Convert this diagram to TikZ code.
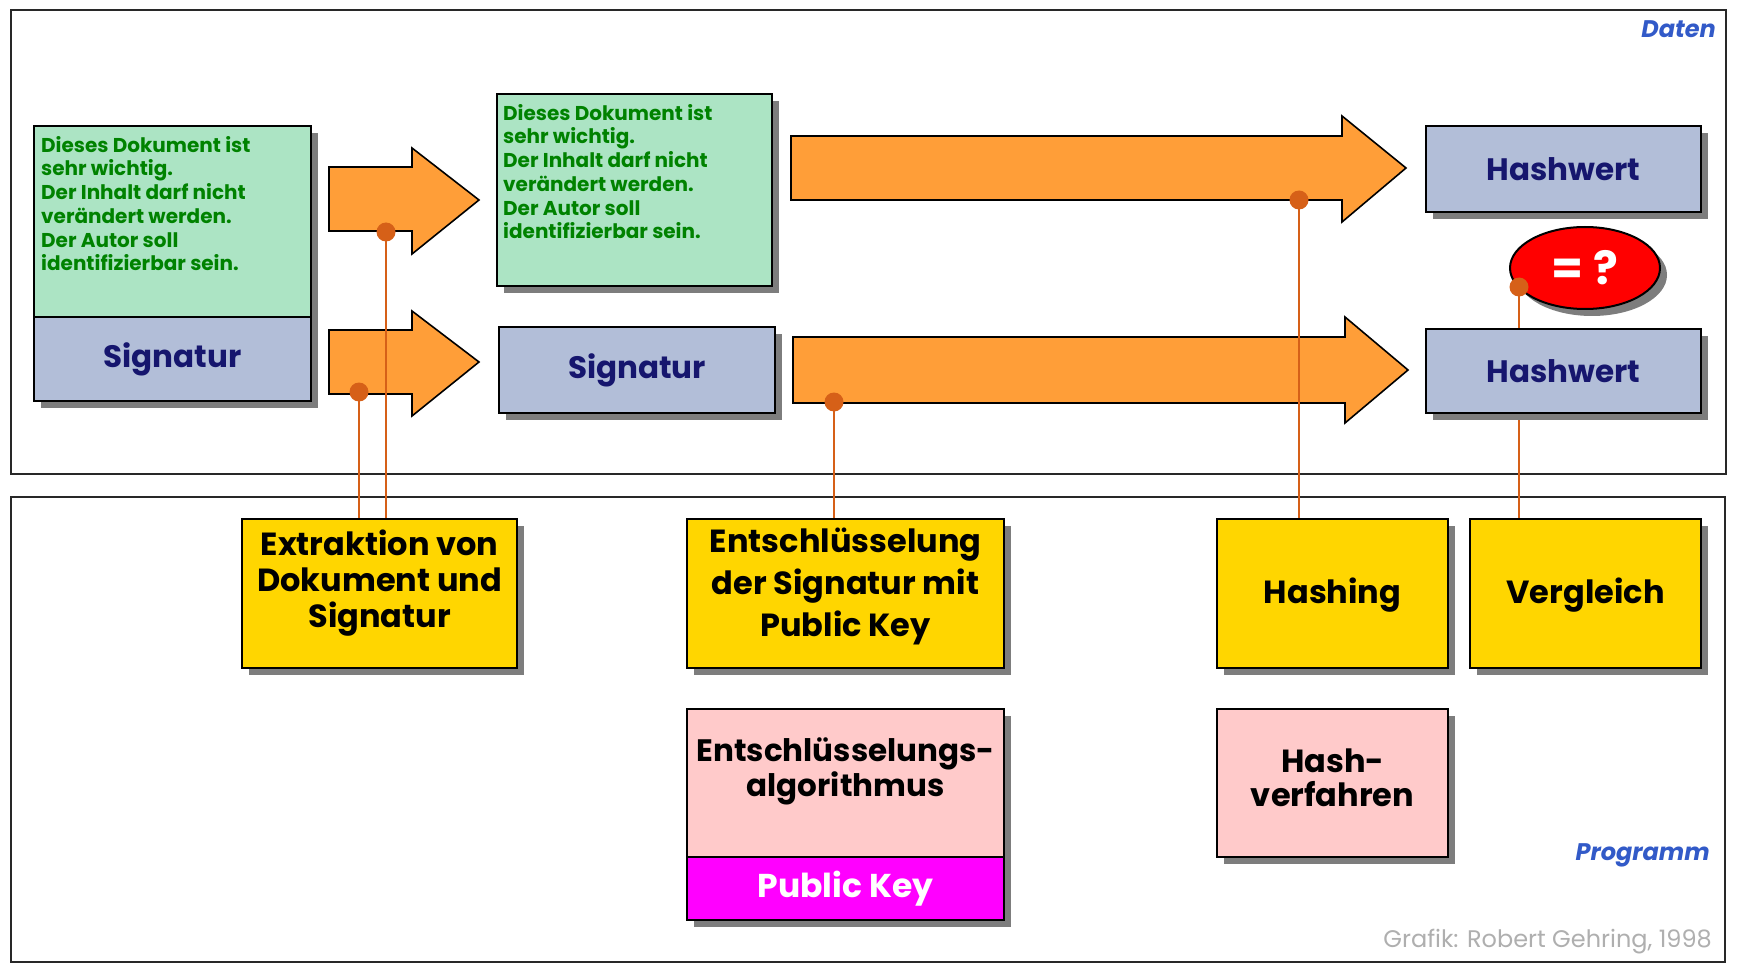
\documentclass[tikz,border=0pt]{standalone}
\usepackage{fontspec}
\setmainfont{Poppins}
\usetikzlibrary{shapes.geometric,shadows,calc}

\definecolor{mint}{RGB}{172,228,196}
\definecolor{doctext}{RGB}{0,130,0}
\definecolor{sigfill}{RGB}{178,190,216}
\definecolor{navy}{RGB}{22,22,110}
\definecolor{arroworange}{RGB}{255,158,56}
\definecolor{linkorange}{RGB}{214,96,24}
\definecolor{stepyellow}{RGB}{255,214,0}
\definecolor{toolpink}{RGB}{255,202,202}
\definecolor{keymagenta}{RGB}{255,0,255}
\definecolor{labelblue}{RGB}{50,90,200}
\definecolor{creditgray}{RGB}{175,175,175}
\definecolor{framegray}{RGB}{40,40,40}
\definecolor{shadowgray}{RGB}{125,125,125}

\tikzset{
  panel/.style={draw=framegray, line width=2.4pt},
  card/.style={draw=black, line width=2.2pt, anchor=north west, inner sep=0pt, align=center,
    drop shadow={shadow xshift=7pt, shadow yshift=-7pt, fill=shadowgray, opacity=1}},
  doccard/.style={card, fill=mint},
  sigcard/.style={card, fill=sigfill, text=navy, font=\fontsize{31}{36}\selectfont\bfseries},
  stepcard/.style={card, fill=stepyellow},
  toolcard/.style={card, fill=toolpink},
  keycard/.style={card, fill=keymagenta, text=white, font=\fontsize{33}{36}\selectfont\bfseries},
  doctext/.style={anchor=north west, inner sep=0pt, align=left, text=doctext,
    font=\fontsize{20}{23.7}\selectfont\bfseries},
  steptext/.style={inner sep=0pt, align=center, font=\fontsize{32}{36}\selectfont\bfseries},
  flow/.style={draw=black, line width=1.6pt, fill=arroworange, line join=miter},
  link/.style={draw=linkorange, line width=1.6pt},
  dot/.style={circle, fill=linkorange, minimum size=19pt, inner sep=0pt},
  tag/.style={anchor=east, inner sep=0pt, text=labelblue,
    font=\fontsize{24}{28}\selectfont\bfseries\itshape},
  credit/.style={anchor=east, inner sep=0pt, text=creditgray, font=\fontsize{24}{28}\selectfont},
}

\begin{document}
\begin{tikzpicture}[x=1pt, y=-1pt]
\useasboundingbox[fill=white] (0,0) rectangle (1740,976);

% the two panels: data (top) and program (bottom)
\draw[panel] (11,10) rectangle (1726,474);
\draw[panel] (11,497) rectangle (1725,962);
\node[tag] (daten) at (1716,29) {Daten};
\node[tag] (programm) at (1710,855) {Programm};
\node[credit] (credit) at (1712,942) {Grafik: Robert Gehring, 1998};

% flow arrows
\draw[flow] (329,167) -- (412,167) -- (412,148) -- (479,200) -- (412,254) -- (412,231) -- (329,231) -- cycle;
\draw[flow] (329,330) -- (412,330) -- (412,311) -- (479,362) -- (412,416) -- (412,394) -- (329,394) -- cycle;
\draw[flow] (791,136) -- (1342,136) -- (1342,116) -- (1406,168) -- (1342,222) -- (1342,200) -- (791,200) -- cycle;
\draw[flow] (793,337) -- (1345,337) -- (1345,317) -- (1408,370) -- (1345,423) -- (1345,403) -- (793,403) -- cycle;

% signed document, split into document and signature
\node[doccard, minimum width=277pt, minimum height=191pt] (doc) at (33,125) {};
\node[sigcard, minimum width=277pt, minimum height=84pt] (sig) at (33,316) {Signatur};
\node[doctext] (doctxt) at (41,136) {Dieses Dokument ist\\sehr wichtig.\\Der Inhalt darf nicht\\verändert werden.\\Der Autor soll\\identifizierbar sein.};

\node[doccard, minimum width=275pt, minimum height=192pt] (doc2) at (496,93) {};
\node[doctext] (doc2txt) at (503,104) {Dieses Dokument ist\\sehr wichtig.\\Der Inhalt darf nicht\\verändert werden.\\Der Autor soll\\identifizierbar sein.};
\node[sigcard, minimum width=276pt, minimum height=86pt] (sig2) at (498,326) {Signatur};

\node[sigcard, minimum width=275pt, minimum height=86pt] (hash1) at (1425,125) {Hashwert};

% comparison
\node[ellipse, draw=black, line width=2pt, fill=red, minimum width=150pt, minimum height=82pt,
  inner sep=0pt, text=white, font=\fontsize{46}{50}\selectfont\bfseries,
  drop shadow={shadow xshift=7pt, shadow yshift=-7pt, fill=shadowgray, opacity=1}] (cmp) at (1585,268) {= ?};

% program steps
\node[stepcard, minimum width=275pt, minimum height=149pt] (extr) at (241,518) {};
\node[steptext] at ([yshift=11pt]extr.center) {Extraktion von\\Dokument und\\Signatur};
\node[stepcard, minimum width=317pt, minimum height=149pt] (decr) at (686,518) {};
\node[steptext, font=\fontsize{32}{42}\selectfont\bfseries] at ([yshift=7pt]decr.center) {Entschlüsselung\\der Signatur mit\\Public Key};
\node[stepcard, minimum width=231pt, minimum height=149pt] (hashing) at (1216,518) {};
\node[steptext] at ([yshift=-1pt]hashing.center) {Hashing};
\node[stepcard, minimum width=231pt, minimum height=149pt] (vergl) at (1469,518) {};
\node[steptext] at ([yshift=-1pt]vergl.center) {Vergleich};

% tools
\node[toolcard, minimum width=317pt, minimum height=148pt] (algo) at (686,708) {};
\node[steptext, font=\fontsize{31}{35}\selectfont\bfseries] at ([yshift=12pt]algo.center) {Entschlüsselungs-\\algorithmus};
\node[keycard, minimum width=317pt, minimum height=63pt] (pubkey) at (686,856) {Public Key};
\node[toolcard, minimum width=231pt, minimum height=148pt] (hproc) at (1216,708) {};
\node[steptext, font=\fontsize{32}{34}\selectfont\bfseries] at ([yshift=5pt]hproc.center) {Hash-\\verfahren};

% attachment points
\node[dot] (d1) at (386,232) {};
\node[dot] (d2) at (359,392) {};
\node[dot] (d3) at (1299,200) {};
\node[dot] (d4) at (834,402) {};
\node[dot] (d5) at (1519,287) {};

% links from data to program steps
\draw[link] (d1.center) -- (d1.center |- extr.north);
\draw[link] (d2.center) -- (d2.center |- extr.north);
\draw[link] (d4.center) -- (d4.center |- decr.north);
\draw[link] (d3.center) -- (d3.center |- hashing.north);
\draw[link] (d5.center) -- (d5.center |- vergl.north);

% second hash value lies over the comparison link
\node[sigcard, minimum width=275pt, minimum height=84pt] (hash2) at (1425,328) {Hashwert};
\end{tikzpicture}
\end{document}
